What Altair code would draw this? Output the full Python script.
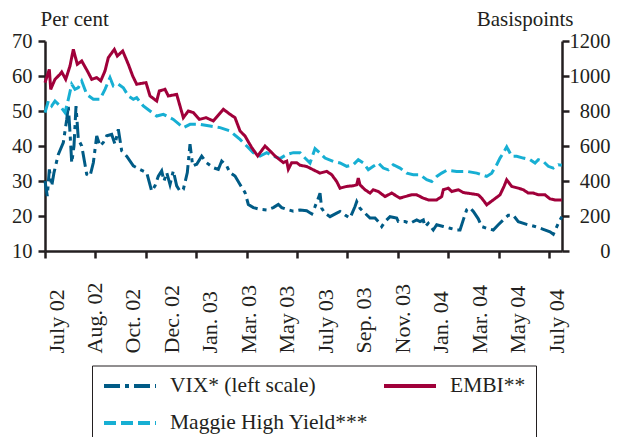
import json
import altair as alt
import pandas as pd

# ---------------- data ----------------
series_names = ["VIX* (left scale)", "Maggie High Yield***", "EMBI**"]
series_colors = ["#005B86", "#17AFD3", "#A0003A"]
series_dashes = [[16, 5, 4, 5], [12, 5], [1, 0]]

x_labels = ["July 02", "Aug. 02", "Oct. 02", "Dec. 02", "Jan. 03", "Mar. 03", "May 03",
            "July 03", "Sep. 03", "Nov. 03", "Jan. 04", "Mar. 04", "May 04", "July 04"]
x_label_weeks = [0, 8, 16, 24, 32, 40, 48, 56, 64, 72, 80, 88, 96, 104]
x_tick_weeks = [-2.29, 8.19, 18.68, 29.16, 39.64, 50.13, 60.61, 71.09, 81.58, 92.06, 102.54]
x_domain = [-2.29, 105.24]

pct_ticks = [10, 20, 30, 40, 50, 60, 70]
bp_ticks = [0, 200, 400, 600, 800, 1000, 1200]

# (observation week, per cent)
vix = [(-2.29, 30), (-1.81, 25.7), (-1.39, 33.3), (-0.89, 28.6), (-0.42, 32.4), (0.48, 37.6),
       (1.52, 41), (2.23, 47.6), (2.56, 51.4), (2.91, 43.8), (3.27, 35.2), (3.74, 40), (4.16, 51.4),
       (4.64, 41.9), (5.35, 40), (6.39, 31.9), (7.07, 31.4), (7.76, 35.2), (8.47, 42.9), (9.15, 40),
       (9.84, 41), (10.54, 42.9), (11.58, 43.3), (12.27, 40.5), (12.96, 44.8), (13.66, 38.6),
       (14.70, 37.1), (16.08, 34.3), (17.47, 33.3), (18.86, 32.4), (19.90, 27.1), (20.59, 28.6),
       (21.28, 31.4), (21.98, 32.9), (22.46, 30), (23.02, 32.4), (23.71, 29), (24.40, 32.9),
       (25.10, 28.6), (25.79, 27.1), (26.48, 27.6), (27.31, 32.4), (27.87, 40.5), (28.43, 34.3),
       (29.26, 34.8), (30.30, 37.1), (31.34, 35.2), (32.72, 33.8), (33.76, 33.3), (34.46, 35.7),
       (35.50, 34.3), (36.19, 32.4), (37.23, 31.4), (38.27, 29), (39.31, 26.7), (40.00, 23.3),
       (41.04, 22.4), (42.43, 21.9), (43.82, 21.7), (45.20, 22.4), (46.24, 23.3), (46.94, 22.4),
       (47.98, 21.9), (49.36, 21.4), (50.75, 21.7), (52.14, 21.5), (53.18, 20.6), (53.87, 22.7),
       (54.56, 25.1), (54.91, 26.5), (55.26, 22.2), (55.95, 20.8), (56.99, 19.8), (58.38, 20.8),
       (59.07, 21.3), (60.11, 20.3), (61.15, 19.4), (62.19, 22.7), (62.54, 24.1), (63.23, 22.2),
       (64.27, 20.8), (65.31, 19.4), (66.35, 19.4), (67.03, 18.4), (67.74, 17.0), (68.43, 18.4),
       (69.47, 19.8), (70.86, 19.4), (71.19, 18.4), (72.59, 18.4), (73.63, 17.9), (75.02, 18.9),
       (75.71, 18.4), (76.39, 18.9), (76.75, 17.0), (77.43, 17.9), (78.47, 16.0), (79.18, 17.5),
       (80.55, 17.0), (81.95, 16.5), (83.34, 16.0), (84.03, 16.0), (84.71, 18.9), (85.42, 21.8),
       (86.11, 22.4), (86.80, 21.3), (87.83, 19.2), (88.54, 17.0), (89.58, 16.5), (90.95, 16.0),
       (91.99, 17.5), (93.03, 18.9), (94.07, 20.2), (95.11, 20.2), (96.15, 18.4), (97.89, 17.6),
       (99.63, 17.0), (101.35, 16.2), (102.75, 15.5), (103.43, 14.8), (104.47, 17.9), (105.2, 19.8)]

# (observation week, basis points)
embi = [(-2.29, 962), (-1.39, 1038), (-1.10, 924), (-0.21, 981), (0.83, 1010), (1.19, 1023),
        (2.02, 981), (2.91, 1057), (3.60, 1152), (4.43, 1067), (5.35, 1086), (6.51, 1029),
        (7.43, 981), (8.47, 991), (9.30, 972), (10.19, 1029), (10.88, 1105), (12.13, 1152),
        (12.75, 1114), (13.87, 1143), (15.04, 1067), (15.95, 1000), (16.78, 953), (18.72, 962),
        (19.55, 886), (20.94, 857), (21.48, 914), (22.67, 924), (23.36, 886), (25.10, 895),
        (26.48, 762), (27.52, 800), (28.56, 791), (29.80, 752), (31.20, 762), (32.72, 743),
        (34.80, 810), (36.19, 781), (37.23, 762), (38.27, 686), (39.31, 657), (40.70, 591),
        (41.95, 543), (43.47, 600), (44.51, 572), (45.55, 543), (47.28, 505), (47.98, 514),
        (48.32, 467), (49.02, 505), (50.06, 505), (50.75, 490), (52.14, 483), (53.52, 464),
        (54.91, 445), (56.30, 455), (57.34, 436), (58.38, 397), (59.07, 359), (60.46, 369),
        (61.83, 373), (62.54, 378), (62.87, 417), (63.23, 378), (64.27, 350), (65.31, 331),
        (65.99, 350), (67.03, 340), (68.43, 311), (69.82, 331), (71.55, 302), (72.59, 311),
        (73.98, 321), (75.02, 321), (76.39, 302), (77.43, 292), (79.18, 292), (80.22, 311),
        (80.55, 350), (81.59, 359), (82.30, 340), (83.67, 350), (84.71, 334), (86.46, 327),
        (87.83, 321), (88.54, 302), (89.58, 264), (90.95, 292), (92.35, 321), (93.18, 369),
        (93.74, 407), (94.78, 369), (96.15, 359), (97.19, 350), (98.23, 331), (99.27, 331),
        (100.31, 321), (101.71, 321), (102.75, 298), (103.79, 292), (105.2, 292)]

maggie = [(-2.29, 791), (-1.60, 857), (-0.89, 829), (-0.21, 857), (0.83, 829), (1.87, 791),
          (2.56, 867), (3.27, 953), (3.95, 924), (4.64, 933), (5.35, 971), (6.39, 895),
          (7.76, 867), (9.15, 867), (10.19, 924), (11.23, 991), (11.92, 943), (12.96, 953),
          (14.00, 933), (15.04, 886), (16.08, 867), (16.78, 876), (18.16, 829), (19.55, 800),
          (20.94, 771), (22.32, 781), (24.40, 752), (26.48, 705), (27.87, 724), (29.95, 724),
          (32.03, 714), (34.11, 705), (36.19, 686), (38.27, 638), (39.66, 600), (41.04, 562),
          (42.43, 543), (43.82, 562), (45.20, 543), (46.59, 528), (47.98, 552), (49.36, 562),
          (50.75, 562), (51.79, 531), (52.83, 503), (53.87, 585), (54.91, 560), (55.95, 531),
          (57.68, 512), (59.07, 503), (60.46, 484), (61.83, 493), (62.87, 522), (63.91, 503),
          (64.95, 464), (65.99, 484), (67.03, 503), (68.07, 474), (69.11, 464), (70.15, 493),
          (71.55, 474), (72.94, 445), (74.31, 436), (75.71, 436), (77.10, 407), (78.14, 397),
          (79.18, 426), (80.22, 445), (81.26, 461), (83.34, 455), (85.42, 455), (87.50, 445),
          (89.58, 426), (90.62, 445), (91.66, 493), (92.35, 531), (93.03, 560), (93.74, 595),
          (94.78, 541), (95.82, 541), (97.19, 531), (98.59, 522), (99.63, 503), (100.31, 522),
          (101.35, 512), (102.39, 484), (103.43, 474), (104.47, 493), (105.2, 490)]


def frame(pairs, name):
    return pd.DataFrame({"week": [p[0] for p in pairs],
                         "value": [p[1] for p in pairs],
                         "series": name})


df_left = frame(vix, "VIX* (left scale)")
df_right = pd.concat([frame(maggie, "Maggie High Yield***"), frame(embi, "EMBI**")],
                     ignore_index=True)

# ---------------- styling ----------------
font = "Liberation Serif"
ink = "#231F20"

x_scale = alt.Scale(domain=x_domain, nice=False, zero=False)

legend = alt.Legend(
    title=None, orient="none", legendX=47, legendY=324.5, columns=2,
    symbolType="stroke", symbolSize=2704, symbolStrokeWidth=4, clipHeight=21,
    labelFont=font, labelFontSize=21.5, labelColor=ink, labelOffset=12, labelLimit=400,
    padding=10, rowPadding=15, columnPadding=13,
    strokeColor=ink, fillColor="white",
)
color_enc = alt.Color("series:N", scale=alt.Scale(domain=series_names, range=series_colors),
                      legend=legend)
dash_enc = alt.StrokeDash("series:N", scale=alt.Scale(domain=series_names, range=series_dashes),
                          legend=legend)

tick_axis = alt.Axis(orient="bottom", values=x_tick_weeks, labels=False, ticks=True,
                     tickSize=7, tickWidth=2.5, tickColor=ink, domain=True, domainWidth=2.5,
                     domainColor=ink, grid=False)

label_expr = "%s[indexof(%s, datum.value)]" % (json.dumps(x_labels), json.dumps(x_label_weeks))
label_axis = alt.Axis(orient="bottom", values=x_label_weeks, labelExpr=label_expr,
                      ticks=False, tickSize=0, domain=False, grid=False,
                      labelAngle=270, labelAlign="left", labelBaseline="middle",
                      labelPadding=102, labelFont=font, labelFontSize=22, labelColor=ink,
                      labelOverlap=False, labelFlush=False)

common_y = dict(grid=False, tickSize=7, tickWidth=2.5, tickColor=ink, domainWidth=2.5,
                domainColor=ink, labelFont=font, labelFontSize=20.5, labelColor=ink,
                titleFont=font, titleFontSize=21, titleFontWeight="normal", titleColor=ink,
                titleAngle=0, titleBaseline="middle", titleY=-22, format="d")

left_axis = alt.Axis(orient="left", values=pct_ticks, title="Per cent", titleAlign="left",
                     titleX=-5, labelPadding=6, **common_y)
right_axis = alt.Axis(orient="right", values=bp_ticks, title="Basispoints", titleAlign="right",
                      titleX=11, labelAlign="right", labelPadding=41, **common_y)

left = alt.Chart(df_left).mark_line(strokeWidth=3).encode(
    x=alt.X("week:Q", scale=x_scale, axis=tick_axis, title=None),
    y=alt.Y("value:Q", scale=alt.Scale(domain=[10, 70], nice=False, zero=False), axis=left_axis),
    color=color_enc,
    strokeDash=dash_enc,
)

right = alt.Chart(df_right).mark_line(strokeWidth=3).encode(
    x=alt.X("week:Q", scale=x_scale, axis=label_axis, title=None),
    y=alt.Y("value:Q", scale=alt.Scale(domain=[0, 1200], nice=False, zero=False), axis=right_axis),
    color=color_enc,
    strokeDash=dash_enc,
)

chart = (
    alt.layer(left, right)
    .resolve_scale(y="independent")
    .resolve_axis(x="independent")
    .properties(
        width=517, height=210,
        padding={"left": 37, "top": 33, "right": 49, "bottom": 186},
        autosize=alt.AutoSizeParams(type="none"),
    )
    .configure_view(strokeWidth=0)
)

chart.save("out.html", embed_options={"renderer": "svg", "actions": False})
